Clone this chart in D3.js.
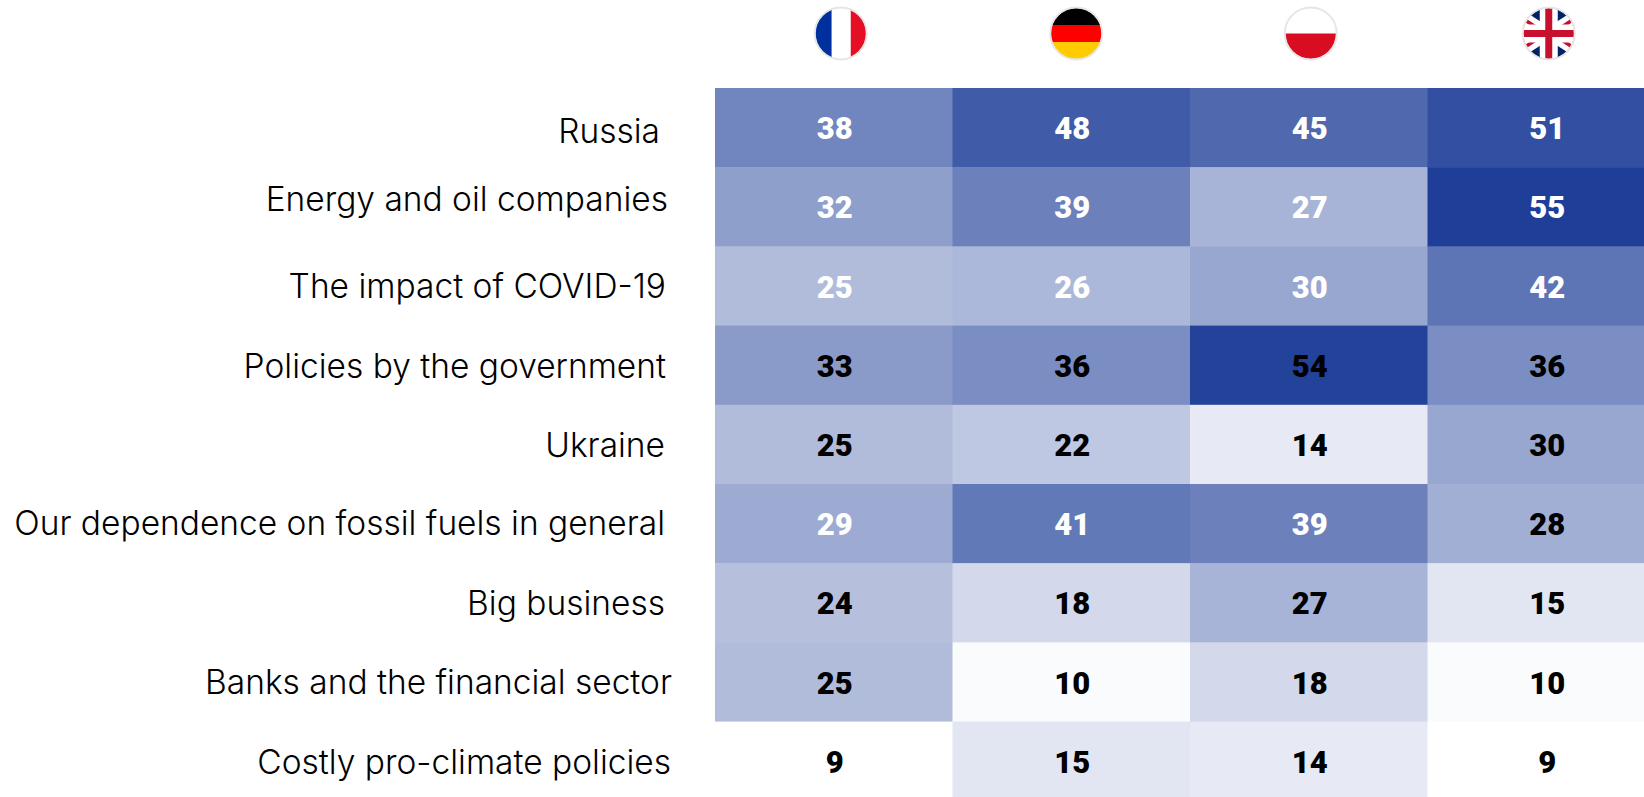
<!DOCTYPE html>
<html>
<head>
<meta charset="utf-8">
<script src="https://cdnjs.cloudflare.com/ajax/libs/d3/7.8.5/d3.min.js"></script>
<style>
  html, body { margin: 0; padding: 0; background: #fff; overflow: hidden; }
  .label { font-family: Inter, sans-serif; font-weight: 300; font-size: 33.5px; fill: #000; text-anchor: end; }
  .value { font-family: Roboto, sans-serif; font-weight: 900; font-size: 31px; text-anchor: middle; }
</style>
</head>
<body>
<div id="wrapper"></div>
<script>
const countries = ['France', 'Germany', 'Poland', 'UK']
const categories = [
    'Russia',
    'Energy and oil companies',
    'The impact of COVID-19',
    'Policies by the government',
    'Ukraine',
    'Our dependence on fossil fuels in general',
    'Big business',
    'Banks and the financial sector',
    'Costly pro-climate policies'
]
const france = [38, 32, 25, 33, 25, 29, 24, 25, 9]
const germany = [48, 39, 26, 36, 22, 41, 18, 10, 15]
const poland = [45, 27, 30, 54, 14, 39, 27, 18, 14]
const uk = [51, 55, 42, 36, 30, 28, 15, 10, 9]
// which numbers are white is not regular, so list them
const whiteFrance = [1, 1, 1, 0, 0, 1, 0, 0, 0]
const whiteGermany = [1, 1, 1, 0, 0, 1, 0, 0, 0]
const whitePoland = [1, 1, 1, 0, 0, 1, 0, 0, 0]
const whiteUk = [1, 1, 1, 0, 0, 0, 0, 0, 0]

const series = [france, germany, poland, uk]
const whites = [whiteFrance, whiteGermany, whitePoland, whiteUk]

const width = 1644
const height = 797
const gridTop = 88
const gridLeft = 715
const colWidth = 237.5
const rowHeight = 79.2

// the labels were placed by hand in the original
const labelEnd = [660, 668, 666, 666, 665, 665, 665, 672, 671]
const labelShift = [4, -7, 1, 2, 2, 0, 1, 1, 2]
const flagShift = [7, 5, 2, 2.5]

const x = d3.scaleBand().domain(countries).range([gridLeft, gridLeft + colWidth * countries.length])
const y = d3.scaleBand().domain(categories).range([gridTop, gridTop + rowHeight * categories.length])
const color = d3.scaleLinear().domain([9, 55]).range(['#ffffff', '#1e3e98'])

const svg = d3.select('#wrapper').append('svg')
    .attr('width', width)
    .attr('height', height)
    .style('display', 'block')

const cells = countries.flatMap((c, i) => categories.map((cat, j) => ({
    country: c,
    category: cat,
    row: j,
    value: series[i][j],
    white: whites[i][j]
})))

svg.selectAll('.cell')
    .data(cells)
    .join('rect')
    .attr('class', 'cell')
    .attr('x', d => x(d.country))
    .attr('y', d => y(d.category))
    .attr('width', x.bandwidth() + 0.5)
    .attr('height', y.bandwidth() + 0.5)
    .attr('fill', d => color(d.value))

svg.selectAll('.value')
    .data(cells)
    .join('text')
    .attr('class', 'value')
    .attr('x', d => x(d.country) + x.bandwidth() / 2 + 1)
    .attr('y', d => y(d.category) + y.bandwidth() / 2 + 11.5)
    .attr('fill', d => d.white ? '#fff' : '#000')
    .text(d => d.value)

svg.selectAll('.label')
    .data(categories)
    .join('text')
    .attr('class', 'label')
    .attr('x', (d, i) => labelEnd[i])
    .attr('y', (d, i) => y(d) + y.bandwidth() / 2 + 11 + labelShift[i])
    .text(d => d)

// flags
const flagR = 25.5
const defs = svg.append('defs')
defs.append('clipPath').attr('id', 'flag-clip')
    .append('circle').attr('r', flagR)

const flags = svg.selectAll('.flag')
    .data(countries)
    .join('g')
    .attr('class', 'flag')
    .attr('transform', (d, i) => `translate(${x(d) + x.bandwidth() / 2 + flagShift[i]},33.5)`)

const flagBody = flags.append('g').attr('clip-path', 'url(#flag-clip)')

function stripe(sel, x0, y0, w, h, fill) {
    sel.append('rect').attr('x', x0).attr('y', y0).attr('width', w).attr('height', h).attr('fill', fill)
}

const fr = flagBody.filter(d => d === 'France')
stripe(fr, -26, -26, 17, 52, '#002f9e')
stripe(fr, -9, -26, 19, 52, '#fff')
stripe(fr, 10, -26, 16, 52, '#e60e24')

const de = flagBody.filter(d => d === 'Germany')
stripe(de, -26, -26, 52, 17.5, '#000')
stripe(de, -26, -8.5, 52, 17, '#f00')
stripe(de, -26, 8.5, 52, 17.5, '#ffcc00')

const pl = flagBody.filter(d => d === 'Poland')
stripe(pl, -26, -26, 52, 26, '#fff')
stripe(pl, -26, 0, 52, 26, '#d80d21')

const gb = flagBody.filter(d => d === 'UK')
stripe(gb, -26, -26, 52, 52, '#012169')
gb.append('path').attr('d', 'M-26,-17L26,17M-26,17L26,-17').attr('stroke', '#fff').attr('stroke-width', 11)
gb.append('path').attr('d', 'M-26,-15L-3,0M26,15L3,0M-26,15L-3,0M26,-15L3,0').attr('stroke', '#c8102e').attr('stroke-width', 3.5)
stripe(gb, -26, -9, 52, 18, '#fff')
stripe(gb, -9, -26, 18, 52, '#fff')
stripe(gb, -26, -3.5, 52, 7, '#c8102e')
stripe(gb, -3.5, -26, 7, 52, '#c8102e')

flags.append('circle')
    .attr('r', flagR + 0.5)
    .attr('fill', 'none')
    .attr('stroke', '#e6e6e6')
    .attr('stroke-width', 2)
</script>
</body>
</html>
